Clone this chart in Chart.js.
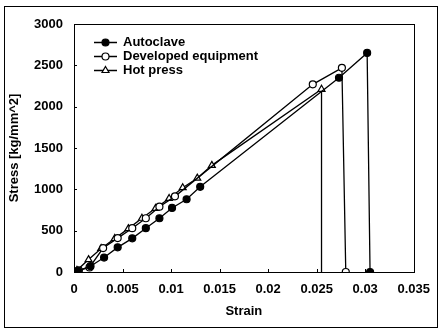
<!DOCTYPE html>
<html>
<head>
<meta charset="utf-8">
<script src="https://cdn.jsdelivr.net/npm/chart.js@4/dist/chart.umd.min.js"></script>
<style>
html,body{margin:0;padding:0;background:#fff;}
#wrap{width:440px;height:329px;position:relative;}
</style>
</head>
<body>
<div id="wrap"><canvas id="c" width="440" height="329"></canvas></div>
<script>
const seriesNames = ["Autoclave", "Developed equipment", "Hot press"];
const autoclaveStrain = [0, 0.0004, 0.0017, 0.0031, 0.0045, 0.0060, 0.0074, 0.0088, 0.0101, 0.0116, 0.0130, 0.0273, 0.0302, 0.0305];
const autoclaveStress = [0, 15, 70, 175, 298, 407, 530, 650, 775, 880, 1030, 2350, 2650, 0];
const developedStrain = [0, 0.0005, 0.0016, 0.0030, 0.0045, 0.0060, 0.0074, 0.0088, 0.0104, 0.0246, 0.0276, 0.0280];
const developedStress = [0, 20, 55, 290, 410, 530, 650, 790, 915, 2270, 2470, 0];
const hotStrain = [0, 0.0003, 0.0015, 0.0028, 0.0042, 0.0056, 0.0070, 0.0084, 0.0098, 0.0112, 0.0127, 0.0142, 0.0255, 0.0255];
const hotStress = [0, 20, 150, 285, 405, 525, 650, 770, 890, 1020, 1135, 1290, 2210, 0];
const xTicks = [0, 0.005, 0.01, 0.015, 0.02, 0.025, 0.03, 0.035];
const yTicks = [0, 500, 1000, 1500, 2000, 2500, 3000];

function pts(xs, ys){ return xs.map((x,i)=>({x:x, y:ys[i]})); }

const FONT = "'Liberation Sans', Arial, sans-serif";
const FS = 13;

const framePlugin = {
  id: 'frame',
  afterDraw(chart){
    const ctx = chart.ctx, a = chart.chartArea;
    const xs = chart.scales.x, ys = chart.scales.y;
    ctx.save();
    ctx.strokeStyle = '#000';
    ctx.lineWidth = 1;
    ctx.strokeRect(4.5, 6.5, 433, 321);
    ctx.strokeRect(Math.round(a.left)+0.5, Math.round(a.top)+0.5, Math.round(a.right-a.left), Math.round(a.bottom-a.top));
    xTicks.forEach(v=>{
      const px = Math.round(xs.getPixelForValue(v))+0.5;
      ctx.beginPath(); ctx.moveTo(px, a.bottom); ctx.lineTo(px, a.bottom-3); ctx.stroke();
    });
    yTicks.forEach(v=>{
      const py = Math.round(ys.getPixelForValue(v))+0.5;
      ctx.beginPath(); ctx.moveTo(a.left, py); ctx.lineTo(a.left+3, py); ctx.stroke();
    });
    const rows = [42, 56, 70];
    chart.data.datasets.forEach((ds,i)=>{
      const y = rows[i]+0.5;
      ctx.strokeStyle = '#000'; ctx.lineWidth = 1.5;
      ctx.beginPath(); ctx.moveTo(94, y); ctx.lineTo(117, y); ctx.stroke();
      ctx.lineWidth = 1.2;
      ctx.fillStyle = ds.pointBackgroundColor;
      ctx.beginPath();
      if (ds.pointStyle === 'triangle'){
        const r = 4;
        ctx.moveTo(105.5, y - r); ctx.lineTo(105.5 + r*0.87, y + r*0.5); ctx.lineTo(105.5 - r*0.87, y + r*0.5); ctx.closePath();
      } else {
        ctx.arc(105.5, y, 3.5, 0, Math.PI*2);
      }
      ctx.fill(); ctx.stroke();
      ctx.fillStyle = '#000';
      ctx.font = "bold " + FS + "px " + FONT;
      ctx.textBaseline = 'middle';
      ctx.textAlign = 'left';
      ctx.fillText(ds.label, 123, y);
    });
    ctx.restore();
  }
};

const common = {showLine:true, borderColor:'#000', borderWidth:1.3, pointBorderColor:'#000', pointBorderWidth:1.2, pointRadius:3.5, pointHoverRadius:3.5, tension:0};

new Chart(document.getElementById('c'), {
  type: 'scatter',
  data: {
    datasets: [
      Object.assign({}, common, {label: seriesNames[0], data: pts(autoclaveStrain, autoclaveStress), pointStyle:'circle', pointBackgroundColor:'#000'}),
      Object.assign({}, common, {label: seriesNames[1], data: pts(developedStrain, developedStress), pointStyle:'circle', pointBackgroundColor:'#fff'}),
      Object.assign({}, common, {label: seriesNames[2], data: pts(hotStrain, hotStress), pointStyle:'triangle', pointBackgroundColor:'#fff', pointRadius: (c)=> c.dataIndex === hotStrain.length-1 ? 0 : 4})
    ]
  },
  options: {
    responsive: false,
    animation: false,
    devicePixelRatio: 1,
    layout: {padding: {left: 0, right: 22, top: 24, bottom: 0}},
    plugins: {legend: {display:false}, tooltip: {enabled:false}},
    scales: {
      x: {
        type: 'linear', min: 0, max: 0.035,
        afterBuildTicks: s => { s.ticks = xTicks.map(v=>({value:v})); },
        afterFit: s => { s.height = 57; },
        grid: {display:false, drawTicks:false},
        border: {display:false},
        ticks: {color:'#000', font:{family:FONT, size:FS, weight:'bold'}, padding: 10, maxRotation:0, autoSkip:false, callback: v => String(+v.toFixed(3))},
        title: {display:true, text:'Strain', color:'#000', font:{family:FONT, size:FS, weight:'bold'}, padding:{top:0, bottom:10}}
      },
      y: {
        type: 'linear', min: 0, max: 3000,
        afterBuildTicks: s => { s.ticks = yTicks.map(v=>({value:v})); },
        afterFit: s => { s.width = 74; },
        grid: {display:false, drawTicks:false},
        border: {display:false},
        ticks: {color:'#000', font:{family:FONT, size:FS, weight:'bold'}, padding: 11, callback: v => String(v)},
        title: {display:true, text:'Stress [kg/mm^2]', color:'#000', font:{family:FONT, size:FS, weight:'bold'}, padding:{top:7, bottom:0}}
      }
    }
  },
  plugins: [framePlugin]
});
</script>
</body>
</html>
